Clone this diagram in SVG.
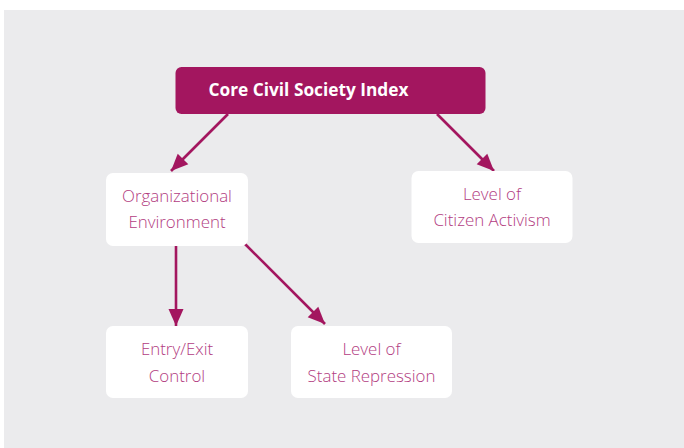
<svg xmlns="http://www.w3.org/2000/svg" width="684" height="448" viewBox="0 0 684 448">
<defs>
<style>
.bg{fill:#ffffff}
.panel{fill:#ebebed}
.node{fill:#ffffff}
.main{fill:#a3165f}
.lbl{font-family:"Open Sans","Liberation Sans",sans-serif;font-size:16.9px;font-weight:300;fill:#b23c7f;text-anchor:middle}
.title{font-family:"Open Sans","Liberation Sans",sans-serif;font-size:17.3px;font-weight:700;fill:#ffffff;text-anchor:middle}
.conn{stroke:#a3165f;stroke-width:2.6;fill:none}
</style>
<marker id="ah" markerUnits="userSpaceOnUse" markerWidth="20" markerHeight="20" viewBox="0 0 20 20" refX="17" refY="10" orient="auto">
<path d="M0,2.5 L17,10 L0,17.5 Z" fill="#a3165f"/>
</marker>
</defs>
<rect class="bg" x="0" y="0" width="684" height="448"/>
<rect class="panel" x="4" y="10" width="680" height="438"/>
<g id="connectors">
<line class="conn" x1="228" y1="114" x2="171" y2="171" marker-end="url(#ah)"/>
<line class="conn" x1="437" y1="114" x2="494" y2="171" marker-end="url(#ah)"/>
<line class="conn" x1="176" y1="245" x2="176" y2="326" marker-end="url(#ah)"/>
<line class="conn" x1="244" y1="243" x2="325" y2="324" marker-end="url(#ah)"/>
</g>
<g id="core">
<rect class="main" x="175.5" y="67" width="310" height="47" rx="6"/>
<text class="title" x="308.5" y="96">Core Civil Society Index</text>
</g>
<g id="org">
<rect class="node" x="106" y="173" width="142" height="73" rx="7"/>
<text class="lbl" x="177" y="202">Organizational</text>
<text class="lbl" x="177" y="228">Environment</text>
</g>
<g id="citizen">
<rect class="node" x="411.5" y="171" width="161" height="72" rx="7"/>
<text class="lbl" x="492" y="200">Level of</text>
<text class="lbl" x="492" y="226">Citizen Activism</text>
</g>
<g id="entry">
<rect class="node" x="106" y="326" width="142" height="72" rx="7"/>
<text class="lbl" x="177" y="355">Entry/Exit</text>
<text class="lbl" x="177" y="382">Control</text>
</g>
<g id="state">
<rect class="node" x="291" y="326" width="161" height="72" rx="7"/>
<text class="lbl" x="371.5" y="355">Level of</text>
<text class="lbl" x="371.5" y="382">State Repression</text>
</g>
</svg>
